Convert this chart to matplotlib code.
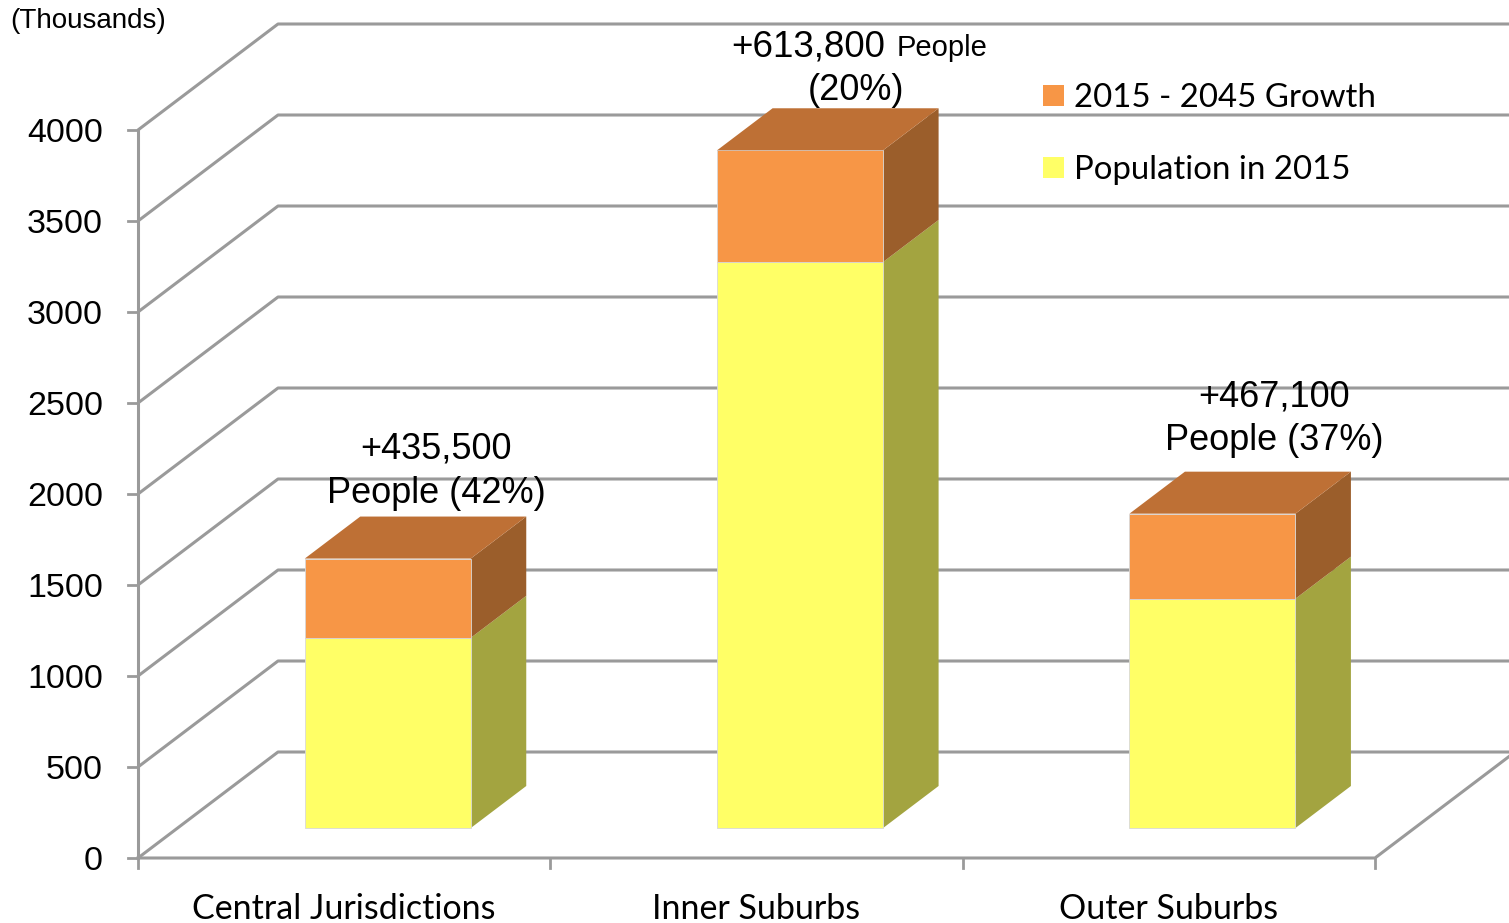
import matplotlib
matplotlib.use("Agg")
import matplotlib.pyplot as plt
from matplotlib.patches import Polygon, Patch
from matplotlib import transforms

categories = ["Central Jurisdictions", "Inner Suburbs", "Outer Suburbs"]
pop_2015 = [1045, 3110, 1260]
growth = [435.5, 613.8, 467.1]
growth_labels = ["+435,500\nPeople (42%)", None, "+467,100\nPeople (37%)"]
yticks = [0, 500, 1000, 1500, 2000, 2500, 3000, 3500, 4000]

W, H = 1509, 923
# pixel layout of the front plane
X0_PX, Y0_PX = 138, 858
CAT_PX = 412.33
VAL_PX = 728 / 4000
# oblique depth (full depth of the floor)
DX = 140 / CAT_PX
DY = 106 / VAL_PX
D0, D1 = 30 / 106, 72 / 106
BAR_W = 166 / CAT_PX
BAR_SHIFT = 4 / CAT_PX
# per-label nudges (px) of the growth labels above the bar tops
LBL_DX = [-7, 0, 6]
LBL_DY = [14, 8, 22]

GRID = "#9a9a9a"
YEL, YEL_SIDE = "#ffff66", "#a3a440"
ORA, ORA_TOP, ORA_SIDE = "#f79646", "#be7035", "#9b5e2b"

NUM_FONT = "Liberation Sans"
TXT_FONT = "Lato"


def P(x, y, d):
    return (x + d * DX, y + d * DY)


fig = plt.figure(figsize=(W / 100, H / 100), dpi=100)
ax = fig.add_axes([0, 0, 1, 1])
ax.set_xlim(-X0_PX / CAT_PX, (W - X0_PX) / CAT_PX)
ax.set_ylim((Y0_PX - H) / VAL_PX, Y0_PX / VAL_PX)
ax.axis("off")

# walls / gridlines
for v in yticks:
    xs, ys = zip(P(0, v, 0), P(0, v, 1), P(3, v, 1))
    ax.plot(xs, ys, color=GRID, lw=2.2, solid_capstyle="butt", zorder=1)
    ax.plot([-10 / CAT_PX, 0], [v, v], color=GRID, lw=2, zorder=1)
    ax.text(-35 / CAT_PX, v, str(v), ha="right", va="center_baseline",
            fontsize=24.5, family=NUM_FONT, color="black")
ax.plot([0, 0], [0, yticks[-1]], color=GRID, lw=2.2, zorder=1)
xs, ys = zip(P(0, 0, 0), P(3, 0, 0), P(3, 0, 1))
ax.plot(xs, ys, color=GRID, lw=2.2, zorder=1)
for i in range(4):
    ax.plot([i, i], [0, -10 / VAL_PX], color=GRID, lw=2, zorder=1)

# bars
for i, (p, g) in enumerate(zip(pop_2015, growth)):
    c = i + 0.5 + BAR_SHIFT
    xl, xr = c - BAR_W / 2, c + BAR_W / 2
    segs = [(0, p, YEL, YEL_SIDE), (p, p + g, ORA, ORA_SIDE)]
    for lo, hi, cf, cs in segs:
        side = [P(xr, lo, D0), P(xr, lo, D1), P(xr, hi, D1), P(xr, hi, D0)]
        ax.add_patch(Polygon(side, closed=True, fc=cs, ec="none", zorder=3))
        front = [P(xl, lo, D0), P(xr, lo, D0), P(xr, hi, D0), P(xl, hi, D0)]
        ax.add_patch(Polygon(front, closed=True, fc=cf, ec="#d8d8d8",
                             lw=0.6, zorder=4))
    top = p + g
    tp = [P(xl, top, D0), P(xr, top, D0), P(xr, top, D1), P(xl, top, D1)]
    ax.add_patch(Polygon(tp, closed=True, fc=ORA_TOP, ec="none", zorder=4))

    cx, cy = P(c, top, D1)
    cx += LBL_DX[i] / CAT_PX
    cy += LBL_DY[i] / VAL_PX
    if growth_labels[i]:
        ax.text(cx, cy, growth_labels[i], ha="center", va="baseline",
                fontsize=26, family=NUM_FONT, linespacing=1.32, zorder=5)
    else:
        ax.text(cx, cy, "(20%)", ha="center", va="baseline",
                fontsize=26, family=NUM_FONT, zorder=5)
        base = cy + 44 / VAL_PX
        t1 = transforms.offset_copy(ax.transData, fig=fig, x=30, y=0, units="dots")
        t2 = transforms.offset_copy(ax.transData, fig=fig, x=41, y=0, units="dots")
        ax.text(cx, base, "+613,800", ha="right", va="baseline", transform=t1,
                fontsize=26.5, family=NUM_FONT, zorder=5)
        ax.text(cx, base, "People", ha="left", va="baseline", transform=t2,
                fontsize=21, family=NUM_FONT, zorder=5)

# category labels
for i, name in enumerate(categories):
    ax.text(i + 0.5, -61 / VAL_PX, name, ha="center", va="baseline",
            fontsize=24.5, family=TXT_FONT)

fig.text(10 / W, 1 - 21 / H, "(Thousands)", ha="left", va="center",
         fontsize=20, family=NUM_FONT)

handles = [Patch(fc=ORA, ec="none", label="2015 - 2045 Growth"),
           Patch(fc=YEL, ec="none", label="Population in 2015")]
leg = fig.legend(handles=handles, loc="upper left",
                 bbox_to_anchor=(1030 / W, 1 - 70 / H), frameon=False,
                 prop={"family": TXT_FONT, "size": 23.8},
                 handlelength=0.62, handleheight=0.62, handletextpad=0.3,
                 labelspacing=1.26, borderaxespad=0)

fig.savefig("out.png", dpi=100)
